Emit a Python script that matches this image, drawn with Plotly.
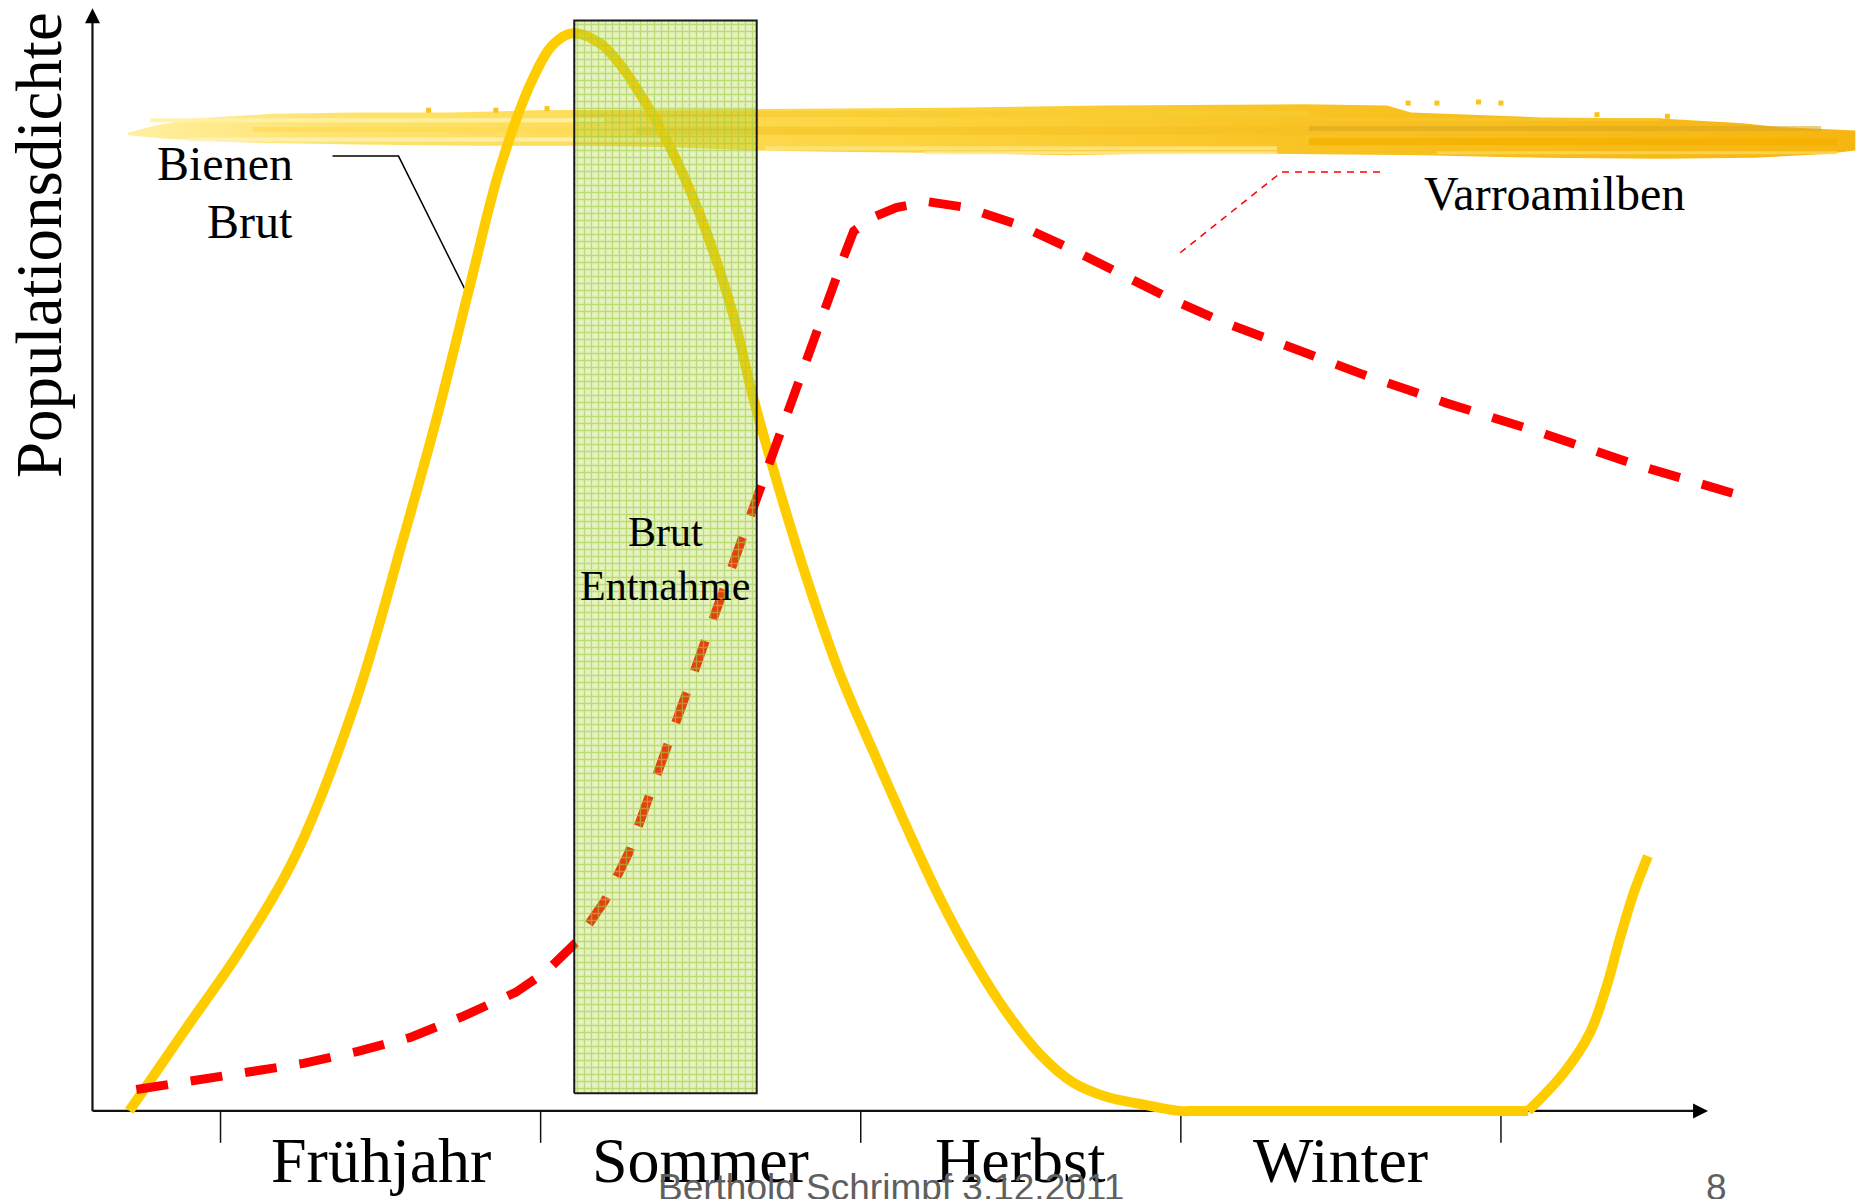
import plotly.graph_objects as go

# ---------------- data ----------------
season_labels = ["Frühjahr", "Sommer", "Herbst", "Winter"]
season_edges = [1, 2, 3, 4, 5]
season_mids = [1.5, 2.5, 3.5, 4.5]

# Bienen Brut (bee brood) population density
bienen_x = [0.715, 0.896, 1.063, 1.237, 1.422, 1.570, 1.674, 1.778, 1.874, 1.978,
            2.041, 2.100, 2.185, 2.237, 2.289, 2.393, 2.496, 2.600, 2.659, 2.726,
            2.830, 2.933, 3.041, 3.144, 3.248, 3.352, 3.456, 3.559, 3.663, 3.767,
            3.870, 3.996, 4.050, 4.500, 5.085, 5.196, 5.278, 5.330, 5.370,
            5.415, 5.459]
bienen_y = [0.0, 7.64, 14.64, 23.36, 37.14, 51.88, 62.76, 74.81, 85.68, 93.86,
            96.88, 97.85, 96.93, 95.41, 93.33, 88.16, 81.49, 72.44, 65.34, 58.34,
            48.44, 39.83, 32.51, 25.73, 19.27, 13.67, 8.93, 5.17, 2.58, 1.29,
            0.65, 0.0, 0.0, 0.0, 0.0, 3.44, 7.10, 11.30, 15.50,
            19.81, 23.14]
winter_restart = 5.085   # brood rearing resumes here (visible corner)

# Varroamilben (mite) population density
varroa_x = [0.737, 0.911, 1.085, 1.259, 1.426, 1.593, 1.759, 1.922, 2.015, 2.111,
            2.200, 2.274, 2.348, 2.422, 2.519, 2.567, 2.633, 2.681, 2.748, 2.830,
            2.904, 2.952, 2.978, 3.041, 3.111, 3.207, 3.330, 3.496, 3.656, 3.811,
            3.967, 4.126, 4.293, 4.570, 4.830, 5.126, 5.422, 5.774]
varroa_y = [1.94, 2.69, 3.44, 4.31, 5.38, 6.67, 8.61, 10.76, 12.59, 15.29,
            19.05, 23.36, 29.28, 35.31, 43.06, 46.83, 52.21, 56.30, 61.89, 68.24,
            74.17, 77.93, 79.87, 81.16, 82.02, 82.56, 82.02, 80.41, 78.26, 76.00,
            73.73, 71.69, 69.86, 66.85, 64.26, 61.57, 58.66, 55.65]

# Brut-Entnahme window (x range) and its vertical extent
window_x = [2.105, 2.675]
window_y = [1.6, 99.0]

# Callout leader lines
bienen_callout_x = [1.350, 1.556, 1.778]
bienen_callout_y = [86.69, 86.69, 73.74]
varroa_callout_x = [4.622, 4.315, 3.985]
varroa_callout_y = [85.25, 85.25, 77.61]

# Decorative highlighter brush stroke (outline, data units)
brush_x = [0.711, 0.793, 0.922, 1.163, 1.422, 1.719, 1.978, 2.533, 3.274, 3.756,
           4.385, 4.644, 4.719, 5.126, 5.496, 5.756, 5.867, 6.107,
           6.107, 6.015, 5.793, 5.496, 5.126, 4.756, 4.385, 4.015, 3.644, 3.274,
           2.904, 2.681, 2.385, 2.089, 1.793, 1.422, 1.052, 0.830, 0.711]
brush_y = [88.81, 89.45, 90.10, 90.53, 90.64, 90.64, 90.85, 90.96, 91.07, 91.28,
           91.39, 91.28, 90.64, 90.20, 90.10, 89.67, 89.34, 89.02,
           87.19, 86.87, 86.54, 86.44, 86.54, 86.76, 86.87, 86.98, 86.76, 86.98,
           87.08, 87.19, 87.51, 87.62, 87.62, 87.73, 87.94, 88.27, 88.59]
brush_streaks = [  # x0, x1, y, width(px), color, opacity
    (0.78, 2.20, 89.95, 4, "#FFF1A6", 0.9),
    (0.90, 2.40, 88.20, 4, "#FFF3B8", 0.8),
    (1.10, 2.50, 89.10, 5, "#FFD94E", 0.6),
    (2.10, 4.40, 90.50, 6, "#F8CC30", 0.7),
    (2.30, 4.50, 89.00, 8, "#F4C020", 0.55),
    (2.70, 4.30, 87.40, 4, "#FDE37C", 0.9),
    (3.20, 4.30, 87.00, 3, "#FFE8A0", 0.8),
    (4.40, 6.00, 89.20, 5, "#D9A520", 0.55),
    (4.40, 6.05, 88.00, 7, "#F5B000", 0.8),
    (4.80, 6.05, 87.00, 3, "#FCD65A", 0.8),
    (4.40, 5.50, 90.00, 3, "#F9C52A", 0.8),
]
brush_specks_x = [1.65, 1.86, 2.02, 4.71, 4.80, 4.93, 5.00, 5.30, 5.52]
brush_specks_y = [90.85, 90.85, 91.00, 91.50, 91.50, 91.60, 91.50, 90.45, 90.30]

# ---------------- layout geometry ----------------
W, H = 1859, 1199
X0, X1 = 0.3111, 6.1185
Y0, Y1 = -8.0, 100.86
PX_X = (X1 - X0) / W   # data units per pixel
PX_Y = (Y1 - Y0) / H
AX_X = 0.6             # y-axis position
X_TIP = 5.647          # x-axis arrow tip
Y_TIP = 100.1          # y-axis arrow tip

SERIF = "Liberation Serif, Times New Roman, serif"
SANS = "Liberation Sans, Arial, sans-serif"

fig = go.Figure()

# brush stroke
fig.add_trace(go.Scatter(
    x=brush_x, y=brush_y, mode="lines", fill="toself",
    line=dict(width=0, color="rgba(0,0,0,0)"),
    fillgradient=dict(type="horizontal",
                      colorscale=[[0, "#FFF0A0"], [0.12, "#FFE36E"], [0.45, "#FCD43E"],
                                  [0.7, "#F8C222"], [1, "#F6B610"]]),
    hoverinfo="skip", showlegend=False))
for x0, x1, yy, w, c, op in brush_streaks:
    fig.add_trace(go.Scatter(x=[x0, x1], y=[yy, yy], mode="lines",
                             line=dict(color=c, width=w), opacity=op,
                             hoverinfo="skip", showlegend=False))
fig.add_trace(go.Scatter(x=brush_specks_x, y=brush_specks_y, mode="markers",
                         marker=dict(symbol="square", size=5, color="#FBC21C"),
                         hoverinfo="skip", showlegend=False))

# callout leaders
fig.add_trace(go.Scatter(x=bienen_callout_x, y=bienen_callout_y, mode="lines",
                         line=dict(color="black", width=1.5),
                         hoverinfo="skip", showlegend=False))
fig.add_trace(go.Scatter(x=varroa_callout_x, y=varroa_callout_y, mode="lines",
                         line=dict(color="#FF0000", width=1.5, dash="7px,6px"),
                         hoverinfo="skip", showlegend=False))

# Bienen curve: smooth spline, split where the winter restart forms a corner
k = bienen_x.index(winter_restart)
bee_line = dict(color="#FFCC00", width=10, shape="spline", smoothing=1.0)
fig.add_trace(go.Scatter(x=bienen_x[:k + 1], y=bienen_y[:k + 1], mode="lines",
                         name="Bienen Brut", line=bee_line, showlegend=False))
fig.add_trace(go.Scatter(x=bienen_x[k:], y=bienen_y[k:], mode="lines",
                         name="Bienen Brut", line=bee_line, showlegend=False))

fig.add_trace(go.Scatter(x=varroa_x, y=varroa_y, mode="lines", name="Varroamilben",
                         line=dict(color="#FF0000", width=9, dash="32px,23px"),
                         showlegend=False))

# Brut-Entnahme window (semi-transparent patterned box)
fig.add_trace(go.Scatter(
    x=[window_x[0], window_x[1], window_x[1], window_x[0], window_x[0]],
    y=[window_y[0], window_y[0], window_y[1], window_y[1], window_y[0]],
    mode="lines", fill="toself",
    fillcolor="rgba(170,212,50,0.30)",
    fillpattern=dict(shape="+", size=7, solidity=0.35, fgcolor="#A2CC3E",
                     fgopacity=0.6, bgcolor="rgba(170,212,50,0.30)"),
    line=dict(color="#1a1a1a", width=2),
    hoverinfo="skip", showlegend=False))

# axes drawn as shapes
shapes = [
    dict(type="line", xref="x", yref="y", x0=AX_X, x1=AX_X, y0=0, y1=Y_TIP - 10 * PX_Y,
         line=dict(color="#111", width=2.2), layer="below"),
    dict(type="line", xref="x", yref="y", x0=AX_X, x1=X_TIP - 10 * PX_X, y0=0, y1=0,
         line=dict(color="#111", width=2.2), layer="below"),
    dict(type="path", xref="x", yref="y", layer="below",
         path=f"M {X_TIP},0 L {X_TIP - 15 * PX_X},{7.5 * PX_Y} L {X_TIP - 15 * PX_X},{-7.5 * PX_Y} Z",
         fillcolor="black", line=dict(width=0)),
    dict(type="path", xref="x", yref="y", layer="below",
         path=f"M {AX_X},{Y_TIP} L {AX_X - 7.5 * PX_X},{Y_TIP - 15 * PX_Y} L {AX_X + 7.5 * PX_X},{Y_TIP - 15 * PX_Y} Z",
         fillcolor="black", line=dict(width=0)),
]
for e in season_edges:
    shapes.append(dict(type="line", xref="x", yref="y", x0=e, x1=e, y0=0, y1=-2.9,
                       line=dict(color="#111", width=1.5), layer="below"))

# text annotations (y given as baseline; shifted by font metrics)
def label(text, x, y_base, size, family=SERIF, color="black", xanchor="center", asc=0.3375):
    return dict(text=text, x=x, y=y_base, xref="x", yref="y", showarrow=False,
                xanchor=xanchor, yanchor="middle", yshift=asc * size,
                font=dict(family=family, size=size, color=color))

def footer(text, x, size=37):
    # baseline sits right at the bottom edge of the page (as in the slide)
    return dict(text=text, x=x, y=0, xref="x", yref="paper", showarrow=False,
                xanchor="center", yanchor="middle", yshift=0.3465 * size - 1,
                font=dict(family=SANS, size=size, color="#5f5f5f"))

annotations = []
for name, mid in zip(season_labels, season_mids):
    annotations.append(label(name, mid, -6.455, 64))
annotations += [
    label("Bienen", 1.234, 84.52, 48, xanchor="right"),
    label("Brut", 1.234, 79.31, 48, xanchor="right"),
    label("Varroamilben", 4.752, 81.80, 48, xanchor="left"),
    label("Brut", (window_x[0] + window_x[1]) / 2, 51.23, 42),
    label("Entnahme", (window_x[0] + window_x[1]) / 2, 46.39, 42),
    footer("Berthold Schrimpf 3.12.2011", 3.094),
    footer("8", 5.672),
    dict(text="Populationsdichte", x=0.435, y=78.58, xref="x", yref="y", showarrow=False,
         textangle=-90, xanchor="center", yanchor="middle",
         font=dict(family=SERIF, size=65, color="black")),
]

fig.update_layout(
    width=W, height=H, autosize=False,
    margin=dict(l=0, r=0, t=0, b=0, pad=0),
    paper_bgcolor="white", plot_bgcolor="white",
    xaxis=dict(range=[X0, X1], visible=False, fixedrange=True),
    yaxis=dict(range=[Y0, Y1], visible=False, fixedrange=True),
    shapes=shapes, annotations=annotations, showlegend=False,
)

fig.write_html("out.html", include_plotlyjs=True, full_html=True,
               config={"displayModeBar": False, "staticPlot": True},
               post_script="document.body.style.margin='0';document.body.style.overflow='hidden';")
